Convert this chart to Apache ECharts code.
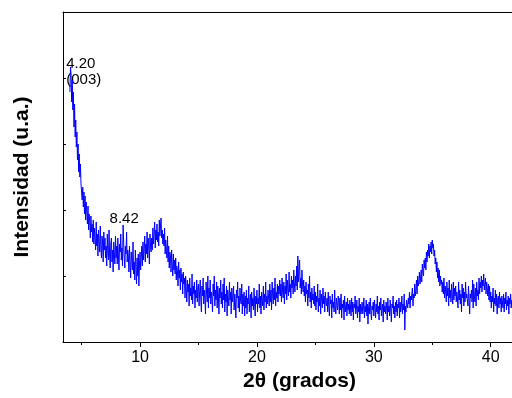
<!DOCTYPE html>
<html>
<head>
<meta charset="utf-8">
<script src="https://cdn.jsdelivr.net/npm/echarts@6/dist/echarts.min.js"></script>
<style>
  html, body { margin: 0; padding: 0; background: #fff; }
  #main { width: 512px; height: 398px; }
</style>
</head>
<body>
<div id="main"></div>
<script>
// 2θ muestreado cada 0.05 grados desde 4.00
var thetaStart = 4.0;
var thetaStep = 0.05;

var intensity = [
  250, 275, 268, 240, 262, 232, 250, 215, 238, 205, 222, 195, 210, 182, 198, 170, 188, 165, 178, 158,
  160, 142, 155, 135, 150, 128, 146, 122, 140, 130, 118, 136, 112, 128, 120, 104, 126, 110, 118, 100,
  122, 98, 114, 104, 92, 120, 96, 108, 86, 112, 100, 90, 116, 94, 84, 106, 98, 80, 110, 92,
  104, 84, 96, 76, 108, 90, 82, 112, 86, 74, 98, 104, 80, 92, 70, 100, 88, 78, 106, 84,
  96, 78, 104, 86, 72, 98, 90, 108, 82, 94, 76, 117, 100, 84, 74, 96, 88, 110, 80, 92,
  86, 70, 96, 78, 64, 90, 82, 72, 100, 68, 80, 62, 92, 74, 58, 84, 66, 88, 56, 76,
  90, 72, 84, 96, 76, 100, 82, 92, 106, 80, 98, 88, 110, 84, 104, 94, 78, 108, 96, 90,
  104, 92, 114, 98, 108, 120, 94, 112, 102, 118, 100, 110, 96, 122, 106, 116, 124, 104, 112, 98,
  108, 96, 114, 88, 102, 92, 84, 106, 80, 96, 74, 90, 86, 70, 92, 78, 66, 88, 72, 82,
  68, 84, 62, 76, 70, 56, 80, 64, 72, 52, 74, 60, 68, 48, 70, 58, 64, 44, 66, 54,
  40, 62, 50, 58, 36, 64, 46, 54, 42, 68, 38, 56, 48, 60, 34, 52, 44, 62, 40, 54,
  58, 36, 50, 62, 42, 30, 56, 46, 64, 38, 52, 44, 28, 60, 48, 40, 66, 34, 54, 44,
  62, 38, 50, 44, 30, 58, 46, 66, 36, 52, 42, 60, 34, 56, 48, 28, 54, 44, 62, 38,
  50, 34, 58, 42, 64, 30, 48, 40, 56, 26, 52, 44, 36, 60, 42, 50, 28, 54, 40, 46,
  56, 32, 48, 40, 24, 52, 44, 60, 34, 46, 30, 54, 42, 38, 58, 28, 48, 36, 50, 26,
  46, 34, 52, 28, 44, 38, 56, 30, 42, 48, 24, 50, 36, 44, 32, 54, 40, 26, 46, 38,
  52, 30, 44, 38, 58, 34, 46, 28, 50, 42, 36, 56, 32, 48, 40, 60, 34, 46, 38, 52,
  44, 36, 58, 40, 52, 32, 60, 46, 38, 54, 42, 64, 36, 50, 44, 58, 40, 56, 48, 62,
  46, 58, 40, 64, 50, 44, 60, 38, 56, 48, 68, 42, 62, 52, 46, 70, 50, 58, 44, 66,
  54, 62, 48, 72, 58, 50, 66, 56, 76, 52, 86, 60, 70, 82, 54, 64, 48, 72, 58, 50,
  62, 46, 56, 40, 60, 48, 52, 36, 58, 44, 66, 40, 50, 34, 54, 42, 48, 38, 56, 36,
  50, 32, 46, 40, 58, 30, 44, 36, 52, 28, 48, 42, 34, 54, 38, 46, 30, 50, 40, 36,
  44, 30, 50, 36, 26, 46, 38, 42, 24, 48, 34, 40, 30, 52, 36, 28, 44, 38, 32, 46,
  40, 28, 44, 32, 48, 24, 38, 34, 42, 22, 46, 30, 36, 40, 26, 44, 32, 38, 28, 42,
  36, 26, 44, 30, 40, 22, 38, 34, 46, 28, 32, 42, 24, 36, 30, 44, 20, 38, 28, 34,
  40, 28, 34, 44, 24, 36, 30, 42, 26, 38, 18, 34, 40, 28, 44, 30, 22, 36, 32, 40,
  26, 42, 34, 24, 38, 30, 46, 28, 36, 22, 40, 32, 44, 26, 34, 38, 20, 42, 30, 36,
  28, 40, 34, 22, 44, 30, 36, 26, 42, 32, 20, 38, 34, 46, 28, 36, 24, 40, 30, 42,
  26, 38, 34, 44, 24, 40, 30, 36, 46, 28, 38, 32, 48, 12, 36, 30, 42, 40, 34, 44,
  38, 50, 34, 46, 42, 40, 54, 36, 48, 44, 58, 46, 52, 62, 48, 66, 56, 60, 70, 58,
  64, 72, 60, 78, 70, 66, 82, 74, 84, 72, 90, 80, 92, 86, 98, 84, 96, 90, 100, 88,
  102, 94, 98, 86, 92, 78, 84, 70, 80, 64, 74, 60, 72, 56, 66, 58, 62, 50, 60, 48,
  64, 44, 56, 50, 40, 60, 46, 54, 36, 62, 44, 52, 40, 58, 48, 38, 60, 42, 54, 46,
  56, 40, 50, 44, 34, 60, 42, 52, 38, 48, 30, 58, 44, 54, 36, 50, 40, 60, 44, 48,
  50, 36, 56, 42, 28, 48, 44, 52, 40, 62, 34, 58, 46, 40, 54, 36, 60, 46, 52, 42,
  64, 48, 60, 54, 66, 50, 62, 56, 68, 52, 58, 64, 48, 60, 54, 46, 58, 42, 56, 40,
  50, 34, 46, 40, 54, 30, 44, 38, 52, 36, 48, 28, 42, 46, 34, 50, 38, 44, 30, 46,
  40, 34, 48, 30, 44, 38, 50, 32, 42, 36, 46, 28, 44, 38, 48, 34, 42
];

var xTicks = [10, 20, 30, 40];
var xMinorTicks = [5, 15, 25, 35];

// picos anotados
var peakLabels = [
  { x: 4.2, y: 272, text: '4.20\n(003)' },
  { x: 8.42, y: 117, text: '8.42' }
];

var data = [];
for (var i = 0; i < intensity.length; i++) {
  data.push([+(thetaStart + i * thetaStep).toFixed(2), intensity[i]]);
}

var font = '"Liberation Sans", Arial, sans-serif';
var chart = echarts.init(document.getElementById('main'));

var option = {
  animation: false,
  backgroundColor: '#fff',
  grid: { left: 63, top: 12, right: 0, bottom: 56 },
  xAxis: [
    {
      type: 'value',
      min: 3.41,
      max: 41.82,
      position: 'bottom',
      name: '2θ (grados)',
      nameLocation: 'middle',
      nameGap: 29,
      nameTextStyle: { fontFamily: font, fontSize: 21, fontWeight: 'bold', color: '#000', padding: [0, 0, 0, 24] },
      axisLine: { lineStyle: { color: '#000', width: 1 } },
      axisTick: { show: true, inside: false, length: 5, customValues: xTicks, lineStyle: { color: '#000' } },
      axisLabel: { customValues: xTicks, fontFamily: font, fontSize: 16, color: '#000', margin: 8 },
      splitLine: { show: false }
    },
    {
      type: 'value',
      min: 3.41,
      max: 41.82,
      position: 'bottom',
      axisLine: { show: false },
      axisTick: { show: true, length: 3, customValues: xMinorTicks, lineStyle: { color: '#000' } },
      axisLabel: { show: false },
      splitLine: { show: false }
    },
    {
      type: 'value',
      min: 3.41,
      max: 41.82,
      position: 'top',
      axisLine: { lineStyle: { color: '#000', width: 1 } },
      axisTick: { show: false },
      axisLabel: { show: false },
      splitLine: { show: false }
    }
  ],
  yAxis: {
    type: 'value',
    min: 0,
    max: 330,
    interval: 66,
    name: 'Intensidad (u.a.)',
    nameLocation: 'middle',
    nameGap: 30,
    nameTextStyle: { fontFamily: font, fontSize: 21, fontWeight: 'bold', color: '#000' },
    axisLine: { show: true, lineStyle: { color: '#000', width: 1 } },
    axisTick: { show: true, inside: true, length: 3, lineStyle: { color: '#000' } },
    axisLabel: { show: false },
    splitLine: { show: false }
  },
  series: [{
    type: 'line',
    data: data,
    showSymbol: false,
    symbol: 'none',
    lineStyle: { color: '#0000ff', width: 1 },
    silent: true
  }]
};

chart.setOption(option);

// etiquetas de los picos
var graphics = [];
peakLabels.forEach(function (p) {
  var pos = chart.convertToPixel({ xAxisIndex: 0, yAxisIndex: 0 }, [p.x, p.y]);
  graphics.push({
    type: 'text',
    left: pos[0] - (p.x < 5 ? 6 : 12),
    top: pos[1] - 14,
    style: { text: p.text, font: '15px ' + font, fill: '#000', lineHeight: 16 }
  });
});
chart.setOption({ graphic: graphics });
</script>
</body>
</html>
